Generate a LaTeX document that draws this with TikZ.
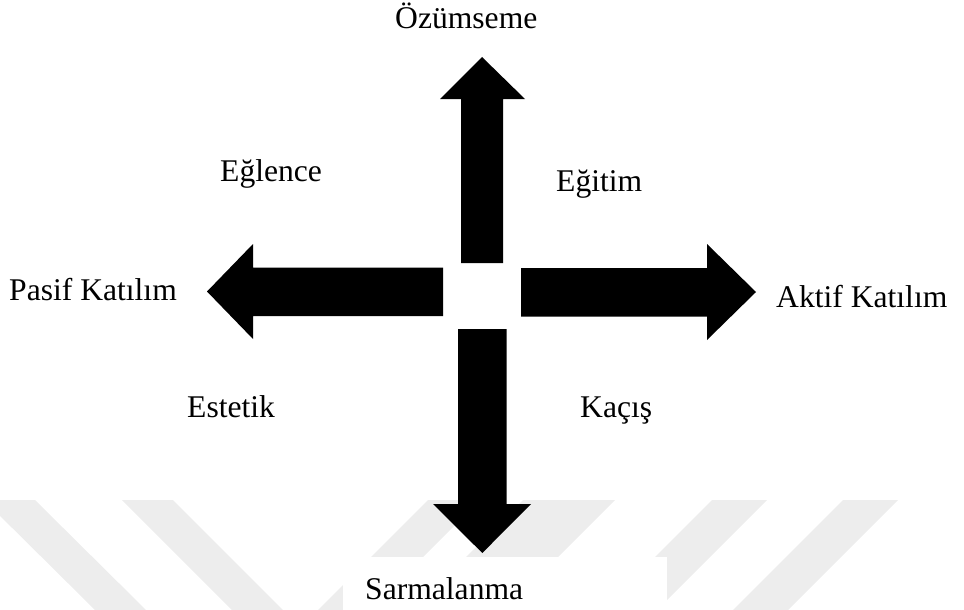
\documentclass[tikz,border=0pt]{standalone}
\usepackage{fontspec}
\setmainfont{Liberation Serif}
\begin{document}
\begin{tikzpicture}[x=1pt,y=-1pt,
  wm/.style={fill=black!7,draw=none},
  blockarrow/.style={fill=black,draw=none},
  lbl/.style={anchor=base west,inner sep=0pt,font=\fontsize{31.6}{38}\selectfont}]
\useasboundingbox (0,0) rectangle (964,610);
% faint watermark stripes
\fill[wm] (-16,500) -- (35,500) -- (146,610) -- (95,610) -- cycle;
\fill[wm] (122,500) -- (173,500) -- (283,610) -- (232,610) -- cycle;
\fill[wm] (428,500) -- (480,500) -- (370,610) -- (318,610) -- cycle;
\fill[wm] (523,500) -- (615,500) -- (505,610) -- (413,610) -- cycle;
\fill[wm] (712,500) -- (767,500) -- (657,610) -- (602,610) -- cycle;
\fill[wm] (843,500) -- (898,500) -- (788,610) -- (733,610) -- cycle;
\fill[white] (343,557) rectangle (667,610);
% block arrows
\fill[blockarrow] (461,263) -- (461,99) -- (440,99) -- (482,57) -- (525,99) -- (503,99) -- (503,263) -- cycle;
\fill[blockarrow] (443,267.5) -- (253,267.5) -- (253,244) -- (207,291.5) -- (253,339) -- (253,316) -- (443,316) -- cycle;
\fill[blockarrow] (521,268) -- (707,268) -- (707,244) -- (756,292) -- (707,340) -- (707,316.5) -- (521,316.5) -- cycle;
\fill[blockarrow] (458,329) -- (506.5,329) -- (506.5,504) -- (531,504) -- (482.3,553) -- (433,504) -- (458,504) -- cycle;
% labels
\node[lbl] (ozum) at (395,29) {Özümseme};
\node[lbl] (eglence) at (220,181) {Eğlence};
\node[lbl] (egitim) at (556,191) {Eğitim};
\node[lbl] (pasif) at (9,300) {Pasif Katılım};
\node[lbl] (aktif) at (776,307) {Aktif Katılım};
\node[lbl] (estetik) at (187,417) {Estetik};
\node[lbl] (kacis) at (580,417) {Kaçış};
\node[lbl] (sarma) at (365,599) {Sarmalanma};
\end{tikzpicture}
\end{document}
